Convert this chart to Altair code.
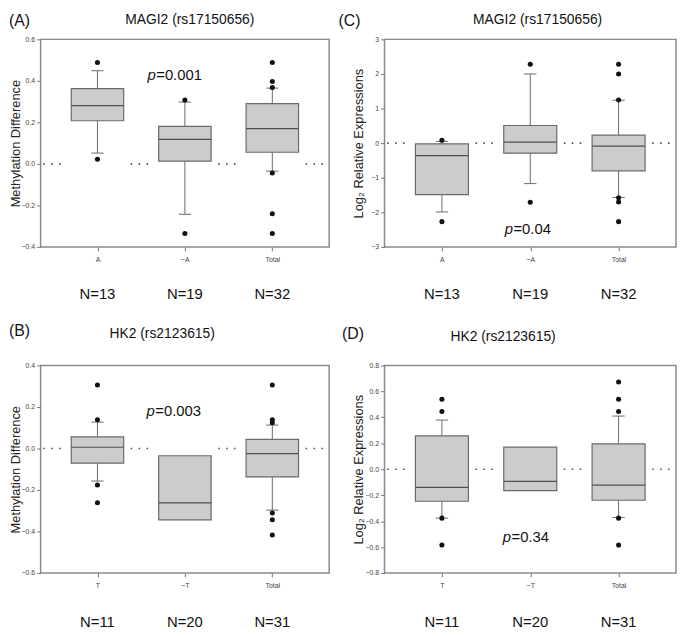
import altair as alt
import pandas as pd

FONT = "Liberation Sans"

# ---------------- data ----------------
POS = [1, 2, 3]

# (A) MAGI2 (rs17150656) methylation difference
A_cats = ["A", "~A", "Total"]
A_n = ["N=13", "N=19", "N=32"]
A_q1 = [0.208, 0.013, 0.056]
A_med = [0.281, 0.118, 0.170]
A_q3 = [0.363, 0.181, 0.290]
A_wlo = [0.052, -0.243, -0.035]
A_whi = [0.449, 0.298, 0.365]
A_out_idx = [0, 0, 1, 1, 2, 2, 2, 2, 2, 2]
A_out_val = [0.489, 0.022, 0.308, -0.335, 0.489, 0.397, 0.368, -0.044, -0.240, -0.335]

# (C) MAGI2 (rs17150656) log2 relative expression
C_cats = ["A", "~A", "Total"]
C_n = ["N=13", "N=19", "N=32"]
C_q1 = [-1.49, -0.29, -0.80]
C_med = [-0.36, 0.03, -0.085]
C_q3 = [-0.02, 0.51, 0.23]
C_wlo = [-1.99, -1.17, -1.57]
C_whi = [0.05, 2.00, 1.24]
C_out_idx = [0, 0, 1, 1, 2, 2, 2, 2, 2, 2]
C_out_val = [0.08, -2.27, 2.28, -1.71, 2.28, 2.00, 1.25, -1.58, -1.70, -2.27]

# (B) HK2 (rs2123615) methylation difference
B_cats = ["T", "~T", "Total"]
B_n = ["N=11", "N=20", "N=31"]
B_q1 = [-0.071, -0.344, -0.137]
B_med = [0.006, -0.262, -0.025]
B_q3 = [0.056, -0.035, 0.044]
B_wlo = [-0.157, None, -0.297]
B_whi = [0.127, None, 0.113]
B_out_idx = [0, 0, 0, 0, 2, 2, 2, 2, 2, 2]
B_out_val = [0.306, 0.138, -0.176, -0.262, 0.306, 0.138, 0.124, -0.311, -0.343, -0.417]

# (D) HK2 (rs2123615) log2 relative expression
D_cats = ["T", "~T", "Total"]
D_n = ["N=11", "N=20", "N=31"]
D_q1 = [-0.247, -0.165, -0.239]
D_med = [-0.140, -0.094, -0.122]
D_q3 = [0.257, 0.170, 0.196]
D_wlo = [-0.377, None, -0.372]
D_whi = [0.379, None, 0.410]
D_out_idx = [0, 0, 0, 0, 2, 2, 2, 2, 2]
D_out_val = [0.539, 0.445, -0.377, -0.585, 0.672, 0.539, 0.445, -0.377, -0.585]

# ---------------- styling / layout ----------------
HW = 0.3     # half box width (x units)
CAP = 0.07   # half cap width
XDOM = [0.35, 3.65]
H = 210
BOX_FILL = "#cccccc"
LINE = "#6a6a6a"


def panel(cats, ns, q1, med, q3, wlo, whi, out_idx, out_val,
          ydom, yticks, yfmt, ytitle, title, letter, pval,
          width, ytitle_x, title_xy, letter_xy, p_xy, n_y):
    box = pd.DataFrame({"pos": POS, "q1": q1, "med": med, "q3": q3, "n": ns})
    box["left"] = box["pos"] - HW
    box["right"] = box["pos"] + HW

    wrows, crows = [], []
    for i, p in enumerate(POS):
        if wlo[i] is not None:
            wrows.append({"pos": p, "a": wlo[i], "b": q1[i]})
            crows.append({"c0": p - CAP, "c1": p + CAP, "v": wlo[i]})
        if whi[i] is not None:
            wrows.append({"pos": p, "a": q3[i], "b": whi[i]})
            crows.append({"c0": p - CAP, "c1": p + CAP, "v": whi[i]})
    wdf = pd.DataFrame(wrows)
    cdf = pd.DataFrame(crows)
    odf = pd.DataFrame({"pos": [POS[i] for i in out_idx], "v": out_val})
    mids = [0.5, 1.5, 2.5, 3.5]
    ddf = pd.DataFrame({"s0": [m - 0.12 for m in mids],
                        "s1": [m + 0.12 for m in mids],
                        "zero": [0.0] * 4})

    label_expr = " : ".join(
        [f"datum.value == {p} ? '{c}'" for p, c in zip(POS[:-1], cats[:-1])]
    ) + f" : '{cats[-1]}'"

    xscale = alt.Scale(domain=XDOM, nice=False, zero=False)
    xaxis = alt.Axis(values=POS, labelExpr=label_expr, tickSize=4,
                     labelFontSize=7, labelPadding=5, domain=False,
                     grid=False, labelFlush=False)
    yscale = alt.Scale(domain=ydom, nice=False, zero=False)
    yaxis = alt.Axis(values=yticks, format=yfmt, tickSize=4, labelFontSize=7,
                     labelPadding=2, domain=False, grid=False,
                     titleX=ytitle_x, titleY=H / 2, titleAngle=270,
                     titleBaseline="middle", titleAlign="center",
                     titleFontSize=13, titleFontWeight="normal",
                     titleColor="#222222", labelFlush=False)

    def X(f):
        return alt.X(f, type="quantitative", scale=xscale, axis=xaxis, title=None)

    def Y(f):
        return alt.Y(f, type="quantitative", scale=yscale, axis=yaxis, title=ytitle)

    one = pd.DataFrame({"k": [0]})

    dots = alt.Chart(ddf).mark_rule(color="#555555", strokeWidth=1.6,
                                    strokeDash=[1.6, 6.4]).encode(
        x=X("s0"), x2="s1", y=Y("zero"))
    whisk = alt.Chart(wdf).mark_rule(color=LINE, strokeWidth=1).encode(
        x=X("pos"), y=Y("a"), y2="b")
    caps = alt.Chart(cdf).mark_rule(color=LINE, strokeWidth=1).encode(
        x=X("c0"), x2="c1", y=Y("v"))
    bars = alt.Chart(box).mark_bar(fill=BOX_FILL, stroke=LINE, strokeWidth=1.2).encode(
        x=X("left"), x2="right", y=Y("q1"), y2="q3")
    meds = alt.Chart(box).mark_rule(color="#505050", strokeWidth=1.2).encode(
        x=X("left"), x2="right", y=Y("med"))
    outs = alt.Chart(odf).mark_circle(color="#111111", size=26, opacity=1).encode(
        x=X("pos"), y=Y("v"))
    nlab = alt.Chart(box).mark_text(font=FONT, fontSize=15, color="#111111",
                                    baseline="middle").encode(
        x=X("pos"), y=alt.value(n_y), text="n")
    p_it = alt.Chart(one).mark_text(text="p", font=FONT, fontSize=15,
                                    fontStyle="italic", align="right",
                                    baseline="middle", color="#111111").encode(
        x=alt.value(p_xy[0]), y=alt.value(p_xy[1]))
    p_val = alt.Chart(one).mark_text(text=pval, font=FONT, fontSize=15,
                                     align="left", baseline="middle",
                                     color="#111111").encode(
        x=alt.value(p_xy[0] + 0.5), y=alt.value(p_xy[1]))
    ttl = alt.Chart(one).mark_text(text=title, font=FONT, fontSize=14,
                                   align="center", baseline="middle",
                                   color="#111111").encode(
        x=alt.value(title_xy[0]), y=alt.value(title_xy[1]))
    let = alt.Chart(one).mark_text(text=letter, font=FONT, fontSize=16,
                                   align="left", baseline="middle",
                                   color="#111111").encode(
        x=alt.value(letter_xy[0]), y=alt.value(letter_xy[1]))

    return alt.layer(dots, whisk, caps, bars, meds, outs, nlab,
                     p_it, p_val, ttl, let).properties(width=width, height=H)


meth = "Methylation Difference"
expr = "Log\u2082 Relative Expressions"

pA = panel(A_cats, A_n, A_q1, A_med, A_q3, A_wlo, A_whi, A_out_idx, A_out_val,
           [-0.4, 0.6], [-0.4, -0.2, 0.0, 0.2, 0.4, 0.6], ".1f", meth,
           "MAGI2 (rs17150656)", "(A)", "=0.001",
           292, -25.5, (151, -20), (-32, -19), (116.5, 36), 258)
pC = panel(C_cats, C_n, C_q1, C_med, C_q3, C_wlo, C_whi, C_out_idx, C_out_val,
           [-3, 3], [-3, -2, -1, 0, 1, 2, 3], "d", expr,
           "MAGI2 (rs17150656)", "(C)", "=0.04",
           295, -26, (155, -20), (-46.5, -19), (130, 192), 258)
pB = panel(B_cats, B_n, B_q1, B_med, B_q3, B_wlo, B_whi, B_out_idx, B_out_val,
           [-0.6, 0.4], [-0.6, -0.4, -0.2, 0.0, 0.2, 0.4], ".1f", meth,
           "HK2 (rs2123615)", "(B)", "=0.003",
           292, -25.5, (123, -32), (-32, -35), (115.6, 46.6), 260)
pD = panel(D_cats, D_n, D_q1, D_med, D_q3, D_wlo, D_whi, D_out_idx, D_out_val,
           [-0.8, 0.8], [-0.8, -0.6, -0.4, -0.2, 0.0, 0.2, 0.4, 0.6, 0.8], ".1f", expr,
           "HK2 (rs2123615)", "(D)", "=0.34",
           295, -26, (120, -29), (-43, -32), (128, 174), 260)

chart = alt.concat(pA, pC, pB, pD, columns=2,
                   spacing={"row": 120, "column": 56},
                   bounds="flush").properties(
    padding=0
).configure_view(
    stroke="#8a8a8a", strokeWidth=1.5
).configure_axis(
    labelFont=FONT, titleFont=FONT, labelColor="#444444",
    tickColor="#777777", tickWidth=1
)

chart.save("out.html", embed_options={"renderer": "svg", "actions": False})
